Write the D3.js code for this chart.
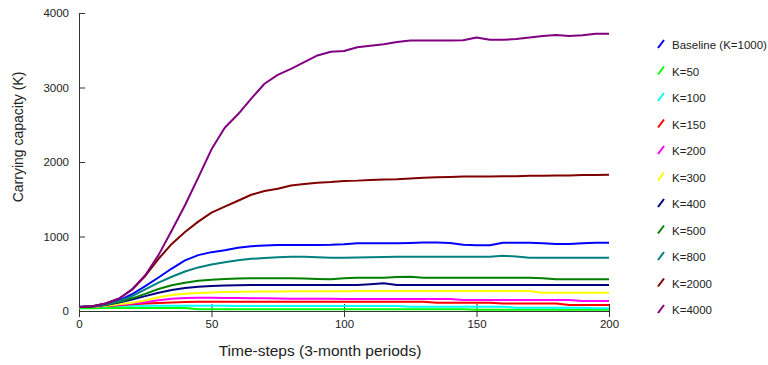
<!DOCTYPE html>
<html>
<head>
<meta charset="utf-8">
<script src="https://cdn.jsdelivr.net/npm/d3@7"></script>
<style>
  body { margin: 0; background: #fff; }
  svg text { font-family: "Liberation Sans", Arial, sans-serif; fill: #222; }
</style>
</head>
<body>
<div id="chart"></div>
<script>
// time-steps sampled every 5 periods
var timeSteps = d3.range(0, 201, 5);

var seriesNames = ["Baseline (K=1000)", "K=50", "K=100", "K=150", "K=200", "K=300",
                   "K=400", "K=500", "K=800", "K=2000", "K=4000"];
var seriesColors = ["#0000ff", "#00ff00", "#00ffff", "#ff0000", "#ff00ff", "#ffff00",
                    "#000080", "#008000", "#008080", "#800000", "#800080"];

var baseline = [55,60,90,140,225,335,450,570,680,750,790,815,850,870,878,885,887,887,887,888,
                895,908,908,908,908,912,918,918,912,890,882,882,915,917,917,908,900,900,908,915,917];
var k50 = [38,38,39,40,40,40,40,40,40,25,25,25,25,25,25,25,25,25,25,25,
           25,25,25,25,25,25,25,25,25,25,18,18,18,18,18,18,18,18,18,18,18];
var k100 = [55,58,64,68,70,72,72,71,70,70,69,69,68,68,68,67,67,67,67,67,
            67,67,67,67,67,58,58,58,58,58,58,58,58,45,45,45,45,45,45,36,36];
var k150 = [55,58,66,78,90,100,108,114,120,123,125,125,125,125,125,125,125,125,125,125,
            125,125,125,125,125,125,125,110,110,110,110,110,100,100,100,100,100,80,80,80,80];
var k200 = [55,58,70,85,100,118,145,165,175,178,178,176,174,172,170,168,166,165,164,163,
            162,162,161,161,161,161,161,161,161,148,148,148,148,148,148,148,148,148,134,134,134];
var k300 = [55,58,72,90,110,140,185,215,232,242,248,254,258,260,262,263,264,265,265,265,
            266,268,268,268,268,268,268,268,268,268,268,268,268,268,268,246,246,246,246,246,246];
var k400 = [55,60,80,115,155,200,245,282,308,325,335,342,347,349,349,349,349,349,349,349,
            349,349,360,372,349,349,349,349,349,349,349,349,349,349,349,349,349,349,349,349,349];
var k500 = [55,60,82,120,170,230,295,345,380,405,420,430,435,438,438,438,438,435,430,425,
            440,447,447,447,455,461,447,447,447,447,447,447,447,447,447,440,425,425,425,425,425];
var k800 = [55,60,85,130,200,290,380,460,530,585,625,655,680,700,712,720,728,728,722,715,
            715,718,722,725,727,729,729,729,729,729,729,729,742,730,715,715,715,715,715,715,715];
var k2000 = [55,65,100,165,285,470,700,900,1060,1200,1320,1400,1480,1560,1610,1640,1685,1705,1720,1730,
             1745,1750,1760,1765,1770,1780,1790,1795,1800,1805,1805,1805,1810,1810,1815,1815,1820,1820,1825,1825,1830];
var k4000 = [55,65,100,165,290,480,750,1080,1420,1790,2170,2460,2640,2850,3050,3170,3250,3340,3430,3480,
             3490,3540,3560,3580,3610,3630,3630,3630,3630,3635,3670,3640,3640,3650,3670,3690,3705,3690,3700,3720,3720];

var seriesValues = [baseline, k50, k100, k150, k200, k300, k400, k500, k800, k2000, k4000];

var xTicks = [0, 50, 100, 150, 200];
var yTicks = [0, 1000, 2000, 3000, 4000];

var width = 768, height = 365;
var margin = {top: 13, right: 159, bottom: 54, left: 79};

var svg = d3.select("#chart")
    .append("svg")
    .attr("width", width)
    .attr("height", height);

var x = d3.scaleLinear().domain([0, 200]).range([margin.left, width - margin.right]);
var y = d3.scaleLinear().domain([0, 4000]).range([height - margin.bottom, margin.top]);

// axes
var xAxis = svg.append("g")
    .attr("transform", "translate(0," + (height - margin.bottom) + ")")
    .call(d3.axisBottom(x).tickValues(xTicks).tickSize(6).tickSizeOuter(0));
xAxis.selectAll(".tick line").attr("y1", -7);

var yAxis = svg.append("g")
    .attr("transform", "translate(" + margin.left + ",0)")
    .call(d3.axisLeft(y).tickValues(yTicks).tickSize(7).tickSizeOuter(0).tickFormat(d3.format("d")));
yAxis.selectAll(".tick line").attr("x2", 6);

svg.selectAll(".domain, .tick line").attr("stroke", "#333");
svg.selectAll(".tick text").style("font-size", "11.5px")
    .style("font-family", "'Liberation Sans', Arial, sans-serif").attr("fill", "#222");

// lines
var line = d3.line()
    .x(function(d, i) { return x(timeSteps[i]); })
    .y(function(d) { return y(d); });

seriesValues.forEach(function(vals, i) {
    svg.append("path")
        .attr("d", line(vals))
        .attr("fill", "none")
        .attr("stroke", seriesColors[i])
        .attr("stroke-width", 2)
        .attr("stroke-linejoin", "round");
});

// axis titles
svg.append("text")
    .attr("x", 320)
    .attr("y", 356)
    .attr("text-anchor", "middle")
    .style("font-size", "15.5px")
    .text("Time-steps (3-month periods)");

svg.append("text")
    .attr("transform", "translate(23,137) rotate(-90)")
    .attr("text-anchor", "middle")
    .style("font-size", "14px")
    .text("Carrying capacity (K)");

// legend
var legend = svg.selectAll(".legend")
    .data(seriesNames)
    .enter()
    .append("g")
    .attr("class", "legend")
    .attr("transform", function(d, i) { return "translate(658," + (45 + i * 26.5) + ")"; });

legend.append("line")
    .attr("x1", 0).attr("y1", 3)
    .attr("x2", 6).attr("y2", -5)
    .attr("stroke", function(d, i) { return seriesColors[i]; })
    .attr("stroke-width", 2);

legend.append("text")
    .attr("x", 14)
    .attr("y", 0)
    .attr("dy", "0.35em")
    .style("font-size", "11.5px")
    .text(function(d) { return d; });
</script>
</body>
</html>
